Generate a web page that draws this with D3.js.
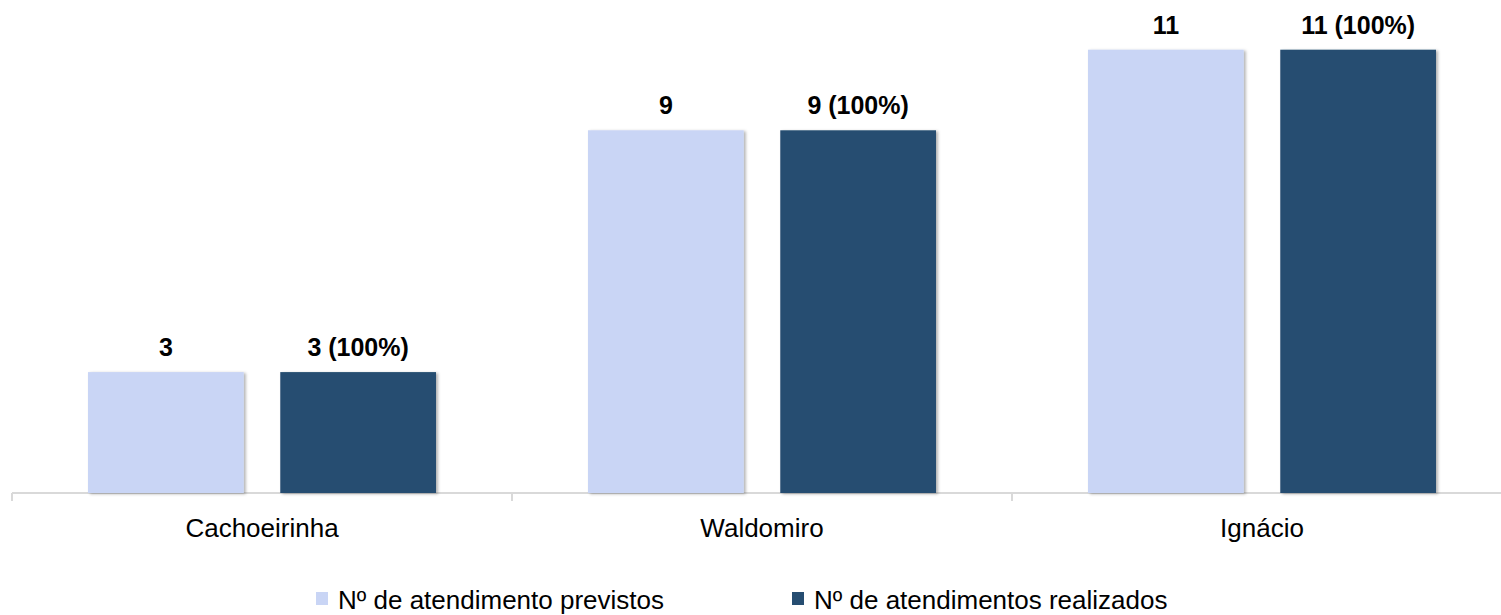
<!DOCTYPE html>
<html>
<head>
<meta charset="utf-8">
<script src="https://cdn.jsdelivr.net/npm/d3@7"></script>
<style>
  body { margin: 0; background: #fff; }
  svg { display: block; font-family: "Liberation Sans", Arial, sans-serif; }
</style>
</head>
<body>
<div class="chart"></div>
<script>
// Data
const categories = ['Cachoeirinha', 'Waldomiro', 'Ignácio'];
const seriesNames = ['Nº de atendimento previstos', 'Nº de atendimentos realizados'];
const previstos = [3, 9, 11];
const realizados = [3, 9, 11];
const labelsPrevistos = ['3', '9', '11'];
const labelsRealizados = ['3 (100%)', '9 (100%)', '11 (100%)'];
const colors = ['#c9d5f5', '#264d71'];

const width = 1501, height = 615;
const baseY = 493;

const svg = d3.select('.chart').append('svg')
    .attr('width', width).attr('height', height);

// soft shadow like the office chart
const defs = svg.append('defs');
const f = defs.append('filter').attr('id', 'shadow')
    .attr('x', '-10%').attr('y', '-10%').attr('width', '130%').attr('height', '130%');
f.append('feDropShadow').attr('dx', 2).attr('dy', 1).attr('stdDeviation', 1.5)
    .attr('flood-color', '#000').attr('flood-opacity', 0.3);

// scales
const x0 = d3.scaleBand().domain(categories).range([12, 1512]).padding(0);
const x1 = d3.scaleBand().domain([0, 1]).range([76, 424]).paddingInner(0.19).paddingOuter(0);
const y = d3.scaleLinear().domain([0, 12]).range([baseY, baseY - 12 * 40.3]);

const rows = categories.map((c, i) => ({
    cat: c,
    vals: [
        { s: 0, v: previstos[i], label: labelsPrevistos[i] },
        { s: 1, v: realizados[i], label: labelsRealizados[i] }
    ]
}));

// axis
const xAxis = d3.axisBottom(x0).tickSize(0).tickFormat('');
const axisG = svg.append('g')
    .attr('transform', `translate(0,${baseY})`)
    .call(xAxis);
axisG.select('.domain').attr('stroke', '#d9d9d9').attr('stroke-width', 2)
    .attr('d', `M12,0H${width}`);
// tick marks between categories
axisG.selectAll('.sep').data([12, 512, 1012]).enter()
    .append('line').attr('class', 'sep')
    .attr('x1', d => d).attr('x2', d => d)
    .attr('y1', 0).attr('y2', 8)
    .attr('stroke', '#d9d9d9').attr('stroke-width', 2);

// category labels
svg.selectAll('.cat').data(categories).enter()
    .append('text').attr('class', 'cat')
    .attr('x', d => x0(d) + x0.bandwidth() / 2)
    .attr('y', 537)
    .attr('text-anchor', 'middle')
    .style('font-size', '26px').style('fill', '#000')
    .text(d => d);

// bars
const groups = svg.selectAll('.grp').data(rows).enter()
    .append('g').attr('class', 'grp')
    .attr('transform', d => `translate(${x0(d.cat)},0)`);

groups.selectAll('rect').data(d => d.vals).enter()
    .append('rect')
    .attr('x', d => x1(d.s))
    .attr('width', x1.bandwidth())
    .attr('y', d => y(d.v))
    .attr('height', d => baseY - y(d.v))
    .attr('fill', d => colors[d.s])
    .attr('filter', 'url(#shadow)');

groups.selectAll('.val').data(d => d.vals).enter()
    .append('text').attr('class', 'val')
    .attr('x', d => x1(d.s) + x1.bandwidth() / 2)
    .attr('y', d => y(d.v) - 16)
    .attr('text-anchor', 'middle')
    .style('font-size', '25px').style('font-weight', 'bold').style('fill', '#000')
    .text(d => d.label);

// legend
const legendX = [316, 792];
const legend = svg.selectAll('.leg').data(seriesNames).enter()
    .append('g').attr('class', 'leg')
    .attr('transform', (d, i) => `translate(${legendX[i]},598)`);
legend.append('rect')
    .attr('x', 0).attr('y', -6).attr('width', 12).attr('height', 13)
    .attr('fill', (d, i) => colors[i]);
legend.append('text')
    .attr('x', 22).attr('y', 11)
    .style('font-size', '26px').style('fill', '#000')
    .text(d => d);
</script>
</body>
</html>
